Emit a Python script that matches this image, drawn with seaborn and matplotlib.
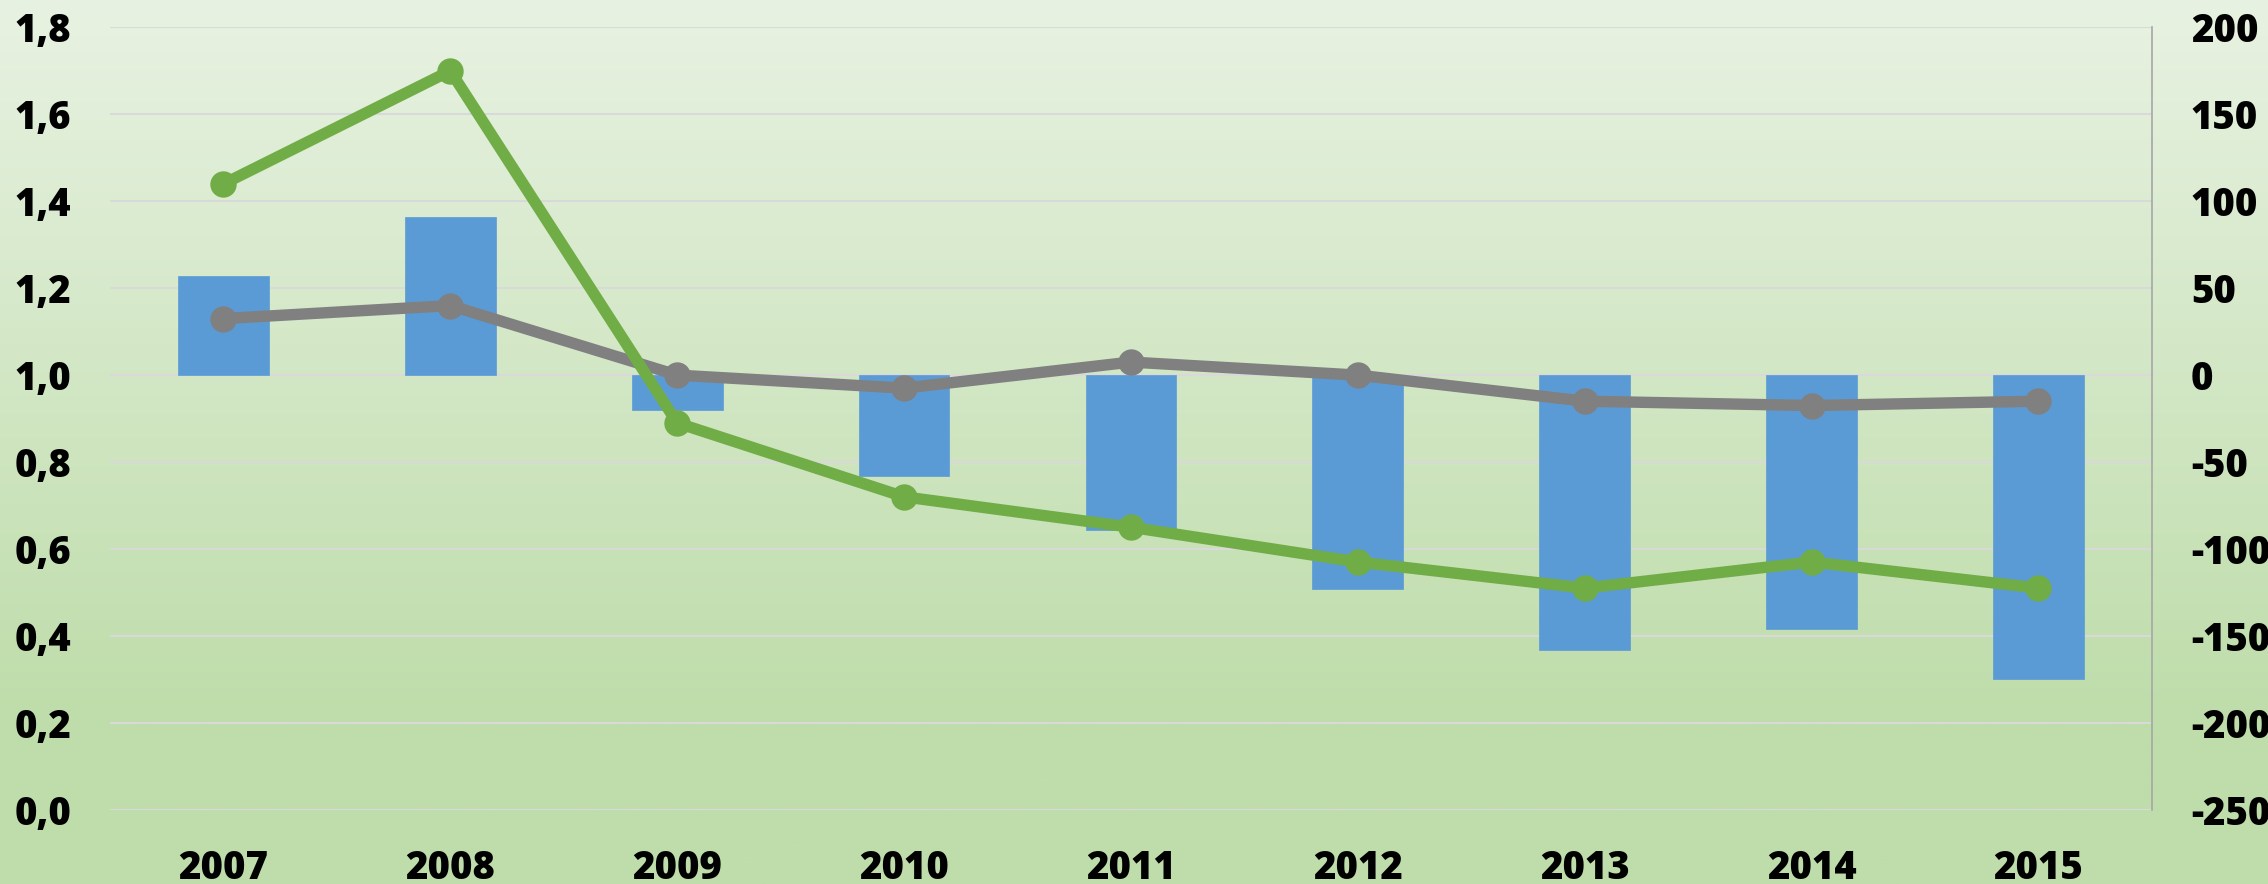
import numpy as np
import matplotlib
matplotlib.use("Agg")
import matplotlib.pyplot as plt
from matplotlib.ticker import FuncFormatter
import seaborn as sns

# --- data ---
years = ['2007', '2008', '2009', '2010', '2011', '2012', '2013', '2014', '2015']
bar_values = [57, 91, -20, -58, -89, -123, -158, -146, -175]        # right axis
grey_values = [1.13, 1.16, 1.00, 0.97, 1.03, 1.00, 0.94, 0.93, 0.94]  # left axis
green_values = [1.44, 1.70, 0.89, 0.72, 0.65, 0.57, 0.51, 0.57, 0.51] # left axis
left_ticks = [0.0, 0.2, 0.4, 0.6, 0.8, 1.0, 1.2, 1.4, 1.6, 1.8]
right_ticks = [-250, -200, -150, -100, -50, 0, 50, 100, 150, 200]

sns.set_theme(style="white")
plt.rcParams['font.family'] = ['Open Sans', 'DejaVu Sans']

fig = plt.figure(figsize=(22.68, 8.84), dpi=100)

# gradient background over the whole figure
bg = fig.add_axes([0, 0, 1, 1], zorder=-10)
top = np.array([232, 242, 226]) / 255
bottom = np.array([191, 221, 171]) / 255
t = np.clip(np.linspace(0, 1, 300) / 0.8, 0, 1)[:, None]
grad = top * (1 - t) + bottom * t
bg.imshow(grad[:, None, :].repeat(2, axis=1), aspect='auto', extent=[0, 1, 0, 1])
bg.set_axis_off()

ax = fig.add_axes([0.0485, 0.084, 0.9003, 0.885])
ax2 = ax.twinx()

# bars on the right axis
sns.barplot(x=years, y=bar_values, color='#5B9BD5', saturation=1, width=0.4,
            edgecolor='#5B9BD5', linewidth=0.5, ax=ax2, zorder=2)

# lines on the left axis
sns.lineplot(x=years, y=grey_values, color='#808080', marker='o', linewidth=8.2,
             markersize=19, markeredgewidth=0, ax=ax, zorder=3)
sns.lineplot(x=years, y=green_values, color='#70AD47', marker='o', linewidth=8.2,
             markersize=19, markeredgewidth=0, ax=ax, zorder=4)

ax.set_zorder(ax2.get_zorder() + 1)
ax.patch.set_visible(False)
ax2.patch.set_visible(False)

ax.set_ylim(0, 1.8)
ax2.set_ylim(-250, 200)
ax.set_xlim(-0.5, 8.5)
ax.set_yticks(left_ticks)
ax2.set_yticks(right_ticks)
ax.yaxis.set_major_formatter(FuncFormatter(lambda v, p: f'{v:.1f}'.replace('.', ',')))
ax2.yaxis.set_major_formatter(FuncFormatter(lambda v, p: f'{int(v)}'))

ax2.grid(axis='y', color='#D9D9D9', linewidth=1.5)
ax2.set_axisbelow(True)
ax.grid(False)

for a in (ax, ax2):
    for s in a.spines.values():
        s.set_visible(False)
    a.set_xlabel('')
    a.set_ylabel('')
ax2.spines['right'].set_visible(True)
ax2.spines['right'].set_color('#A6A6A6')
ax2.spines['right'].set_linewidth(1.2)

ax.tick_params(axis='y', length=0, pad=28, labelsize=27.5, labelcolor='black')
ax2.tick_params(axis='y', length=0, pad=28, labelsize=27.5, labelcolor='black')
ax.tick_params(axis='x', length=0, pad=28, labelsize=27.5, labelcolor='black')
for lab in ax.get_yticklabels() + ax2.get_yticklabels() + ax.get_xticklabels():
    lab.set_fontweight('heavy')

fig.savefig('out.png', dpi=100)
